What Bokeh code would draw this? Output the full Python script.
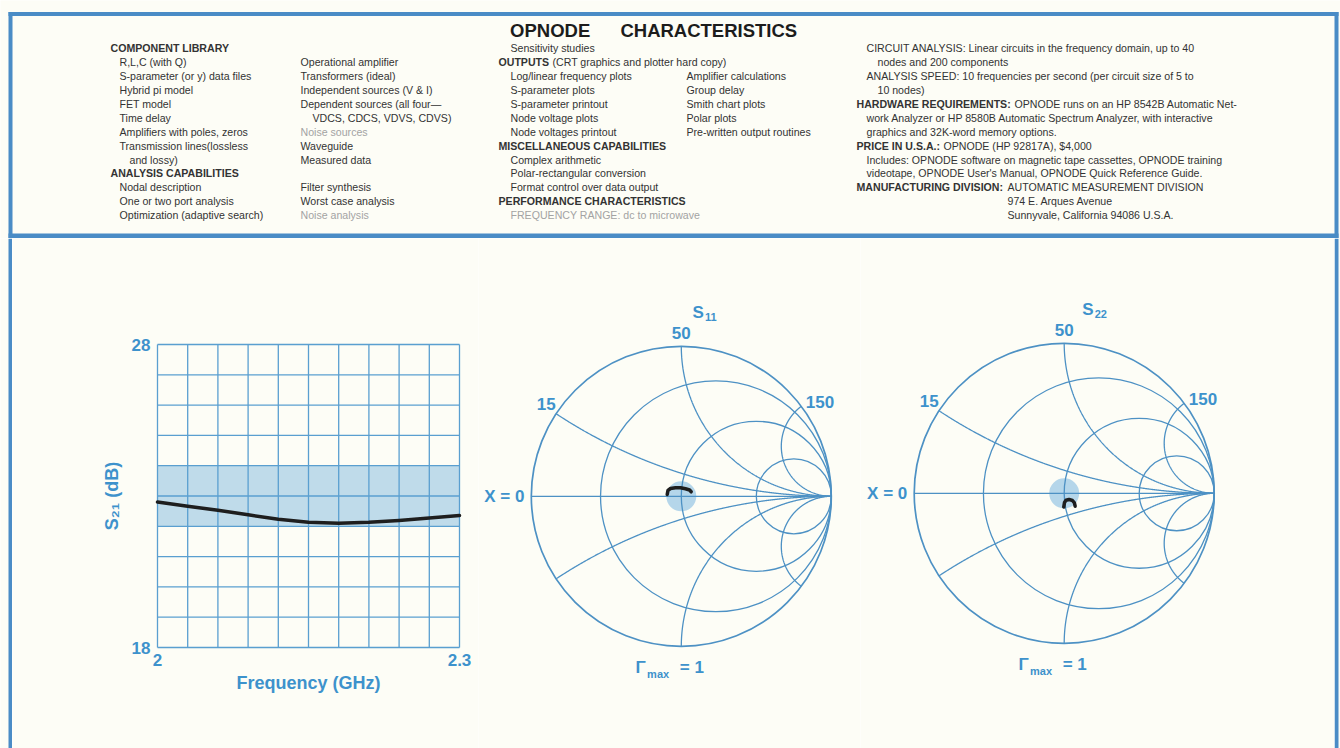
import numpy as np
from bokeh.plotting import figure
from bokeh.layouts import column, row
from bokeh.models import Range1d, FixedTicker, NumeralTickFormatter, LinearAxis
from bokeh.core.properties import value
from bokeh.embed import file_html
from bokeh.resources import INLINE

# ---------------- data ----------------
freq_ghz = [2.00, 2.03, 2.06, 2.09, 2.12, 2.15, 2.18, 2.21, 2.24, 2.27, 2.30]
s21_db = [22.80, 22.66, 22.53, 22.38, 22.23, 22.13, 22.10, 22.13, 22.19, 22.27, 22.36]
s21_spec_low_db = 22.0
s21_spec_high_db = 24.0
freq_tick_values = [2.0, 2.3]
s21_tick_values = [18, 28]
grid_divisions = 10

s11_re = [-0.094, -0.089, -0.072, -0.039, -0.005, 0.028, 0.055, 0.066]
s11_im = [0.012, 0.039, 0.052, 0.057, 0.057, 0.050, 0.042, 0.030]
s22_re = [-0.003, 0.002, 0.012, 0.032, 0.055, 0.068, 0.073]
s22_im = [-0.092, -0.061, -0.046, -0.041, -0.048, -0.064, -0.086]

smith_grid_ohms = [15, 50, 150]
z0_ohms = 50
target_radius = 0.1

title_text = ["OPNODE", "CHARACTERISTICS"]

left_col = [
    (0, 0, "COMPONENT LIBRARY", "b"),
    (1, 1, "R,L,C (with Q)", "n"),
    (2, 1, "S-parameter (or y) data files", "n"),
    (3, 1, "Hybrid pi model", "n"),
    (4, 1, "FET model", "n"),
    (5, 1, "Time delay", "n"),
    (6, 1, "Amplifiers with poles, zeros", "n"),
    (7, 1, "Transmission lines(lossless", "n"),
    (8, 2, "and lossy)", "n"),
    (9, 0, "ANALYSIS CAPABILITIES", "b"),
    (10, 1, "Nodal description", "n"),
    (11, 1, "One or two port analysis", "n"),
    (12, 1, "Optimization (adaptive search)", "n"),
]
second_col = [
    (1, 0, "Operational amplifier", "n"),
    (2, 0, "Transformers (ideal)", "n"),
    (3, 0, "Independent sources (V & I)", "n"),
    (4, 0, "Dependent sources (all four\u2014", "n"),
    (5, 1, "VDCS, CDCS, VDVS, CDVS)", "n"),
    (6, 0, "Noise sources", "f"),
    (7, 0, "Waveguide", "n"),
    (8, 0, "Measured data", "n"),
    (10, 0, "Filter synthesis", "n"),
    (11, 0, "Worst case analysis", "n"),
    (12, 0, "Noise analysis", "f"),
]
middle_col = [
    (0, 1, "Sensitivity studies", "n"),
    (1, 0, "OUTPUTS", "b"),
    (1, 3, "(CRT graphics and plotter hard copy)", "n"),
    (2, 1, "Log/linear frequency plots", "n"),
    (3, 1, "S-parameter plots", "n"),
    (4, 1, "S-parameter printout", "n"),
    (5, 1, "Node voltage plots", "n"),
    (6, 1, "Node voltages printout", "n"),
    (2, 2, "Amplifier calculations", "n"),
    (3, 2, "Group delay", "n"),
    (4, 2, "Smith chart plots", "n"),
    (5, 2, "Polar plots", "n"),
    (6, 2, "Pre-written output routines", "n"),
    (7, 0, "MISCELLANEOUS CAPABILITIES", "b"),
    (8, 1, "Complex arithmetic", "n"),
    (9, 1, "Polar-rectangular conversion", "n"),
    (10, 1, "Format control over data output", "n"),
    (11, 0, "PERFORMANCE CHARACTERISTICS", "b"),
    (12, 1, "FREQUENCY RANGE: dc to microwave", "f"),
]
right_col = [
    (0, 1, "CIRCUIT ANALYSIS: Linear circuits in the frequency domain, up to 40", "n"),
    (1, 2, "nodes and 200 components", "n"),
    (2, 1, "ANALYSIS SPEED: 10 frequencies per second (per circuit size of 5 to", "n"),
    (3, 2, "10 nodes)", "n"),
    (4, 0, "HARDWARE REQUIREMENTS:", "b"),
    (4, 3, "OPNODE runs on an HP 8542B Automatic Net-", "n"),
    (5, 1, "work Analyzer or HP 8580B Automatic Spectrum Analyzer, with interactive", "n"),
    (6, 1, "graphics and 32K-word memory options.", "n"),
    (7, 0, "PRICE IN U.S.A.:", "b"),
    (7, 4, "OPNODE (HP 92817A), $4,000", "n"),
    (8, 1, "Includes: OPNODE software on magnetic tape cassettes, OPNODE training", "n"),
    (9, 1, "videotape, OPNODE User's Manual, OPNODE Quick Reference Guide.", "n"),
    (10, 0, "MANUFACTURING DIVISION:", "b"),
    (10, 5, "AUTOMATIC MEASUREMENT DIVISION", "n"),
    (11, 5, "974 E. Arques Avenue", "n"),
    (12, 5, "Sunnyvale, California 94086 U.S.A.", "n"),
]

# ---------------- style / layout ----------------
FONT = "Liberation Sans"
BG = "#fdfdf6"
FRAME = "#4a8cc6"
GRID = "#5a9fd0"
SMITH = "#4d91c4"
LABEL = "#3d92cc"
TXT = "#333333"
FADED = "#a3a3a3"
BAND = "#8dbfe0"
TRACE = "#1e1e1e"

PAGE_W, PAGE_H = 1340, 748
HDR_H = 238
ROW_H = PAGE_H - HDR_H
ROW0 = 47.8
PITCH = 13.9
BODY = 10.6

col_x = {
    "left": [110, 119, 129],
    "second": [300, 312],
    "middle": [498, 510, 686, 552],
    "right": [856, 866, 877, 1014, 943, 1007],
}


def put_column(fig, entries, xs):
    for style in ("n", "b", "f"):
        sel = [e for e in entries if e[3] == style]
        if not sel:
            continue
        fig.text(
            x=[xs[e[1]] for e in sel],
            y=[ROW0 + PITCH * e[0] for e in sel],
            text=[e[2] for e in sel],
            text_font=value(FONT),
            text_font_size=f"{BODY}px",
            text_font_style="bold" if style == "b" else "normal",
            text_color=FADED if style == "f" else TXT,
            text_align="left",
            text_baseline="middle",
        )


def bare(width, height, xr, yr, bg=BG):
    return figure(width=width, height=height, x_range=xr, y_range=yr,
                  x_axis_type=None, y_axis_type=None, toolbar_location=None, output_backend="svg",
                  min_border=0, background_fill_color=bg, border_fill_color=bg,
                  outline_line_color=None)


# ---------- header ----------
hdr = bare(PAGE_W, HDR_H, Range1d(0, PAGE_W), Range1d(HDR_H, 0))
hdr.quad(left=[8, 8, 1334, 8], right=[1338, 12, 1338, 1338],
         top=[11.5, 11.5, 11.5, 233], bottom=[15.5, HDR_H, HDR_H, HDR_H],
         fill_color=FRAME, line_color=None)
hdr.text(x=[549.7, 708.3], y=[29.5, 29.5], text=title_text, text_font=value(FONT),
         text_font_size="18.5px", text_font_style="bold", text_color="#1c1c1c",
         text_align="center", text_baseline="middle")
put_column(hdr, left_col, col_x["left"])
put_column(hdr, second_col, col_x["second"])
put_column(hdr, middle_col, col_x["middle"])
put_column(hdr, right_col, col_x["right"])

# ---------- S21 chart (full-frame figure, axes at fixed locations) ----------
P1_LEFT, P1_W = 12, 466
PLOT_L, PLOT_R, PLOT_T, PLOT_B = 157, 459, 344, 647  # page pixels of the graph box
f0, f1 = freq_tick_values
d0, d1 = s21_tick_values
kx = (PLOT_R - PLOT_L) / (f1 - f0)
ky = (PLOT_B - PLOT_T) / (d1 - d0)
p1 = bare(P1_W, ROW_H,
          Range1d(f0 - (PLOT_L - P1_LEFT) / kx, f1 + (P1_LEFT + P1_W - PLOT_R) / kx),
          Range1d(d0 - (PAGE_H - PLOT_B) / ky, d1 + (PLOT_T - HDR_H) / ky))
xa = LinearAxis(fixed_location=d0, bounds=(f0, f1))
ya = LinearAxis(fixed_location=f0, bounds=(d0, d1))
p1.add_layout(xa, "below")
p1.add_layout(ya, "left")
xa.ticker = FixedTicker(ticks=freq_tick_values)
xa.formatter = NumeralTickFormatter(format="0.[0]")
ya.ticker = FixedTicker(ticks=s21_tick_values)
for ax in (xa, ya):
    ax.axis_line_color = None
    ax.major_tick_line_color = None
    ax.minor_tick_line_color = None
    ax.major_tick_in = 0
    ax.major_tick_out = 0
    ax.major_label_text_font = FONT
    ax.major_label_text_font_size = "17px"
    ax.major_label_text_font_style = "bold"
    ax.major_label_text_color = LABEL
    ax.axis_label_text_font = FONT
    ax.axis_label_text_font_size = "18px"
    ax.axis_label_text_font_style = "bold"
    ax.axis_label_text_color = LABEL
xa.major_label_standoff = 6
ya.major_label_standoff = 7
xa.axis_label = "Frequency (GHz)"
xa.axis_label_standoff = 4
ya.axis_label = "S\u2082\u2081 (dB)"
ya.axis_label_standoff = 7

# band and grid
p1.quad(left=[f0], right=[f1], bottom=[s21_spec_low_db], top=[s21_spec_high_db],
        fill_color=BAND, fill_alpha=0.55, line_color=None)
gx = np.linspace(f0, f1, grid_divisions + 1)
gy = np.linspace(d0, d1, grid_divisions + 1)
p1.segment(x0=gx, y0=[d0] * len(gx), x1=gx, y1=[d1] * len(gx), line_color=GRID, line_width=1.3)
p1.segment(x0=[f0] * len(gy), y0=gy, x1=[f1] * len(gy), y1=gy, line_color=GRID, line_width=1.3)
p1.line(freq_ghz, s21_db, line_color=TRACE, line_width=3.5, line_cap="round", line_join="round")


# ---------- Smith charts ----------
SCALE = 150.0  # pixels per unit reflection coefficient


def smith(width, left_px, center_px, trace_re, trace_im, sub, title_dx):
    cx, cy = center_px
    xr = Range1d((left_px - cx) / SCALE, (left_px + width - cx) / SCALE)
    yr = Range1d(-(PAGE_H - cy) / SCALE, (cy - HDR_H) / SCALE)
    p = bare(width, ROW_H, xr, yr)
    p.circle(x=[0], y=[0], radius=target_radius, fill_color="#8fc2e4", fill_alpha=0.65, line_color=None)
    norm = [v / z0_ohms for v in smith_grid_ohms]
    p.circle(x=[0], y=[0], radius=1.0, fill_color=None, line_color=SMITH, line_width=1.7)
    p.circle(x=[r / (1 + r) for r in norm], y=[0] * len(norm), radius=[1 / (1 + r) for r in norm],
             fill_color=None, line_color=SMITH, line_width=1.3)
    t = np.tan(np.linspace(0, np.pi / 2 - 1e-4, 600))
    xs, ys = [], []
    for xv in [0.0] + norm + [-v for v in norm]:
        z = t + 1j * xv
        g = (z - 1) / (z + 1)
        xs.append(list(g.real))
        ys.append(list(g.imag))
    p.multi_line(xs, ys, line_color=SMITH, line_width=1.3)
    p.line(trace_re, trace_im, line_color=TRACE, line_width=3.5, line_cap="round", line_join="round")

    big = dict(text_font=value(FONT), text_font_size="17px", text_font_style="bold",
               text_color=LABEL, text_baseline="middle")
    small = dict(text_font=value(FONT), text_font_size="11px", text_font_style="bold",
                 text_color=LABEL, text_baseline="middle", text_align="left")
    labels = [str(v) for v in smith_grid_ohms]
    p.text(x=[-0.9, 0.0, 0.925], y=[0.617, 1.087, 0.63], text=labels, text_align="center", **big)
    p.text(x=[-1.18], y=[0.0], text=["X = 0"], text_align="center", **big)
    p.text(x=[title_dx], y=[1.228], text=["S"], text_align="left", **big)
    p.text(x=[title_dx + 12.5 / SCALE], y=[1.228 - 5 / SCALE], text=[sub], **small)
    p.text(x=[-0.305], y=[-1.143], text=["\u0393"], text_align="left", **big)
    p.text(x=[-0.228], y=[-1.143 - 6 / SCALE], text=["max"], **small)
    p.text(x=[-0.01], y=[-1.143], text=["= 1"], text_align="left", **big)
    return p


p2 = smith(382, 478, (680.8, 495.8), s11_re, s11_im, "11", 0.075)
p3 = smith(474, 860, (1063.7, 492.8), s22_re, s22_im, "22", 0.12)


def strip(x0, x1, b0, b1):
    s = bare(x1 - x0, ROW_H, Range1d(x0, x1), Range1d(0, 1))
    s.quad(left=[b0], right=[b1], bottom=[0], top=[1], fill_color=FRAME, line_color=None)
    return s


layout = column(hdr, row(strip(0, 12, 8, 12), p1, p2, p3, strip(1334, 1340, 1334, 1338), spacing=0),
                spacing=0)

open("out.html", "w").write(file_html(layout, INLINE))
